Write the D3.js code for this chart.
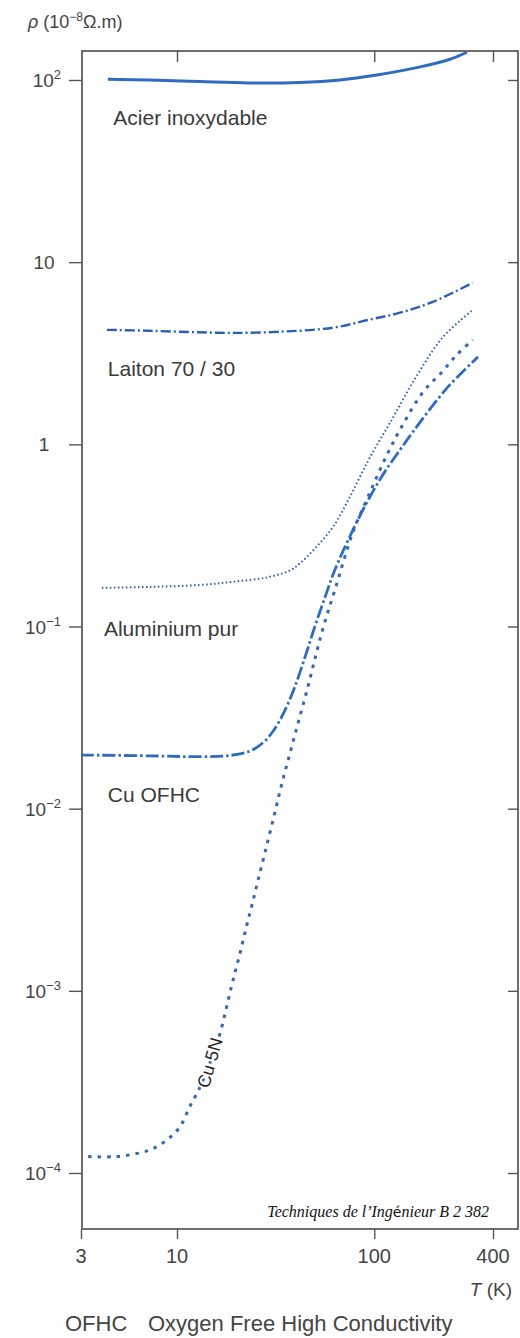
<!DOCTYPE html>
<html>
<head>
<meta charset="utf-8">
<script src="https://cdn.jsdelivr.net/npm/d3@7"></script>
<style>
  html, body { margin: 0; padding: 0; background: #fff; }
  svg { display: block; font-family: "Liberation Sans", Arial, Helvetica, sans-serif; }
</style>
</head>
<body>
<svg id="chart" width="520" height="1338"></svg>
<script>
// Resistivity ρ (10^-8 Ω·m) versus temperature T (K)

// Stainless steel
const acierT   = [4.2, 7.1, 13, 23, 42, 67, 103, 171, 242, 295];
const acierRho = [101, 100, 98, 96.3, 96.9, 100, 106.5, 118, 130, 142];

// Brass 70/30
const laitonT   = [4.15, 7.1, 13.1, 19.2, 33.3, 61.8, 95, 135, 198, 315];
const laitonRho = [4.25, 4.2, 4.12, 4.09, 4.15, 4.37, 4.84, 5.28, 6.05, 7.7];

// Pure aluminium
const aluT   = [3.9, 7.1, 13.1, 19.2, 28.6, 37.4, 42, 50, 61.8, 75.3, 91.8, 107, 120, 164, 223, 316];
const aluRho = [0.163, 0.165, 0.169, 0.176, 0.186, 0.203, 0.222, 0.268, 0.352, 0.515, 0.79, 1.06, 1.31, 2.37, 3.88, 5.47];

// Copper OFHC
const cuOfhcT   = [3.0, 7.1, 13.1, 18.6, 23.4, 27.3, 30.3, 33.3, 36.1, 39.6, 44.6, 50.1, 56.3, 63.2, 78, 95, 113, 135, 157, 234, 336];
const cuOfhcRho = [0.0197, 0.0195, 0.0193, 0.0196, 0.0207, 0.023, 0.0261, 0.0307, 0.0366, 0.0467, 0.0681, 0.1007, 0.145, 0.205, 0.339, 0.514, 0.706, 0.931, 1.17, 2.04, 3.02];

// Copper 5N
const cu5nT   = [3.28, 4.6, 6.29, 7.4, 8.82, 10.35, 11.6, 13.1, 14.7, 16.5, 17.9, 19.2, 20.9, 22.6, 24.0, 25.7, 27.9, 30.7, 33.7, 37.4, 41.5, 46.1, 50.6, 55.6, 63.2, 78, 92.9, 116, 140, 177, 220, 262, 316];
const cu5nRho = [1.23e-4, 1.23e-4, 1.29e-4, 1.36e-4, 1.52e-4, 1.79e-4, 2.31e-4, 2.97e-4, 4.03e-4, 5.81e-4, 8.28e-4, 1.135e-3, 1.62e-3, 2.3e-3, 2.96e-3, 4.02e-3, 5.72e-3, 8.69e-3, 1.318e-2, 2.02e-2, 3.07e-2, 4.67e-2, 6.98e-2, 0.102, 0.159, 0.33, 0.514, 0.875, 1.29, 1.94, 2.49, 3.1, 3.74];

// Axis ticks
const xTickValues = [3, 10, 100, 400];
const xTickLabels = ["3", "10", "100", "400"];
const yTickValues = [1e2, 1e1, 1, 1e-1, 1e-2, 1e-3, 1e-4];
const yTickBase   = ["10", "10", "1", "10", "10", "10", "10"];
const yTickExp    = ["2", "", "", "\u22121", "\u22122", "\u22123", "\u22124"];

// Curve labels
const curveLabels = ["Acier inoxydable", "Laiton 70 / 30", "Aluminium pur", "Cu OFHC"];
const curveLabelAt = [[4.5, 125], [4.2, 376], [4.0, 636], [4.2, 802]];

// ---------------------------------------------------------------
const svg = d3.select("#chart");
const frame = { left: 82, right: 518, top: 51, bottom: 1229 };

const x = d3.scaleLog().domain([3, 10, 400]).range([81, 177, 493]);
const y = d3.scaleLog().domain([1e2, 1e-4]).range([80, 1173]);

const blue = "#2f6cc0";
const axisGrey = "#555";
const textGrey = "#444";

// Frame
svg.append("rect")
  .attr("x", frame.left).attr("y", frame.top)
  .attr("width", frame.right - frame.left)
  .attr("height", frame.bottom - frame.top)
  .attr("fill", "none").attr("stroke", axisGrey).attr("stroke-width", 1.7);

function styleTicks(g) {
  g.select(".domain").remove();
  g.selectAll(".tick line").attr("stroke", axisGrey).attr("stroke-width", 1.4);
  g.selectAll(".tick text").remove();
}

// Left: outward ticks
svg.append("g").attr("transform", `translate(${frame.left},0)`)
  .call(d3.axisLeft(y).tickValues(yTickValues).tickSize(13).tickFormat(() => ""))
  .call(styleTicks);
// Right: inward ticks
svg.append("g").attr("transform", `translate(${frame.right},0)`)
  .call(d3.axisRight(y).tickValues(yTickValues).tickSize(-10).tickFormat(() => ""))
  .call(styleTicks);
// Bottom: outward ticks
svg.append("g").attr("transform", `translate(0,${frame.bottom})`)
  .call(d3.axisBottom(x).tickValues(xTickValues).tickSize(10).tickFormat(() => ""))
  .call(styleTicks);
// Top: inward ticks
svg.append("g").attr("transform", `translate(0,${frame.top})`)
  .call(d3.axisTop(x).tickValues(xTickValues.slice(1)).tickSize(-11).tickFormat(() => ""))
  .call(styleTicks);

// Y tick labels (powers of ten)
yTickValues.forEach((v, i) => {
  const hasExp = yTickExp[i] !== "";
  const t = svg.append("text")
    .attr("y", y(v) + 7)
    .attr("fill", textGrey)
    .attr("font-size", 19);
  if (hasExp) {
    t.attr("x", 61).attr("text-anchor", "end");
    t.append("tspan").text(yTickBase[i]);
    t.append("tspan").attr("dy", -8).attr("font-size", 13).text(yTickExp[i]);
  } else {
    t.attr("x", 44).attr("text-anchor", "middle").text(yTickBase[i]);
  }
});

// X tick labels
svg.append("g").selectAll("text")
  .data(xTickValues)
  .join("text")
  .attr("x", d => x(d))
  .attr("y", frame.bottom + 34)
  .attr("text-anchor", "middle")
  .attr("font-size", 20)
  .attr("fill", textGrey)
  .text((d, i) => xTickLabels[i]);

// Axis titles
const yTitle = svg.append("text").attr("x", 28).attr("y", 28)
  .attr("font-size", 18).attr("fill", textGrey);
yTitle.append("tspan").attr("font-style", "italic").text("\u03c1");
yTitle.append("tspan").text(" (10");
yTitle.append("tspan").attr("dy", -7).attr("font-size", 12).text("\u22128");
yTitle.append("tspan").attr("dy", 7).text("\u03a9.m)");

const xTitle = svg.append("text").attr("x", 512).attr("y", 1296)
  .attr("text-anchor", "end").attr("font-size", 19).attr("fill", textGrey);
xTitle.append("tspan").attr("font-style", "italic").text("T");
xTitle.append("tspan").text(" (K)");

// Curves
const line = d3.line()
  .x(d => x(d[0]))
  .y(d => y(d[1]))
  .curve(d3.curveCatmullRom.alpha(0.5));

const series = [
  { T: acierT,  R: acierRho,  width: 3.0, dash: null,          color: blue },
  { T: laitonT, R: laitonRho, width: 2.4, dash: "10,3,2,3",    color: "#2c5fb3" },
  { T: aluT,    R: aluRho,    width: 2.0, dash: "1.6,2.4",     color: "#3465b0" },
  { T: cuOfhcT, R: cuOfhcRho, width: 2.8, dash: "13,3,2.5,3",  color: blue },
  { T: cu5nT,   R: cu5nRho,   width: 3.0, dash: "3.5,6",       color: "#3468b4" }
];

series.forEach(s => {
  const pts = s.T.map((t, i) => [t, s.R[i]]);
  svg.append("path")
    .attr("d", line(pts))
    .attr("fill", "none")
    .attr("stroke", s.color)
    .attr("stroke-width", s.width)
    .attr("stroke-dasharray", s.dash)
    .attr("stroke-linejoin", "round");
});

// Curve labels
svg.append("g").selectAll("text")
  .data(curveLabels)
  .join("text")
  .attr("x", (d, i) => x(curveLabelAt[i][0]))
  .attr("y", (d, i) => curveLabelAt[i][1])
  .attr("font-size", 21)
  .attr("fill", "#3a3a3a")
  .text(d => d);

// Label written along the Cu 5N curve
svg.append("text")
  .attr("transform", `translate(${x(14.7)},${y(4.03e-4)}) rotate(-74)`)
  .attr("text-anchor", "middle")
  .attr("dy", 6)
  .attr("font-size", 18)
  .attr("fill", "#222")
  .attr("stroke", "#fff").attr("stroke-width", 4)
  .attr("paint-order", "stroke")
  .text("Cu 5N");

// Source note
const src = svg.append("text")
  .attr("x", 489).attr("y", 1217)
  .attr("text-anchor", "end")
  .style("font-family", "'Liberation Serif', 'Times New Roman', serif")
  .style("font-style", "italic")
  .attr("font-size", 16)
  .attr("fill", "#111");
src.append("tspan").text("Techniques de l\u2019Ing");
src.append("tspan").style("font-style", "normal")
  .style("font-family", "'DejaVu Sans', sans-serif").attr("font-size", 14).text("\u00e9");
src.append("tspan").text("nieur B 2 382");

// Footnote
svg.append("text").attr("x", 65).attr("y", 1331)
  .attr("font-size", 22).attr("fill", textGrey).text("OFHC");
svg.append("text").attr("x", 148).attr("y", 1331)
  .attr("font-size", 22).attr("fill", textGrey).text("Oxygen Free High Conductivity");
</script>
</body>
</html>
